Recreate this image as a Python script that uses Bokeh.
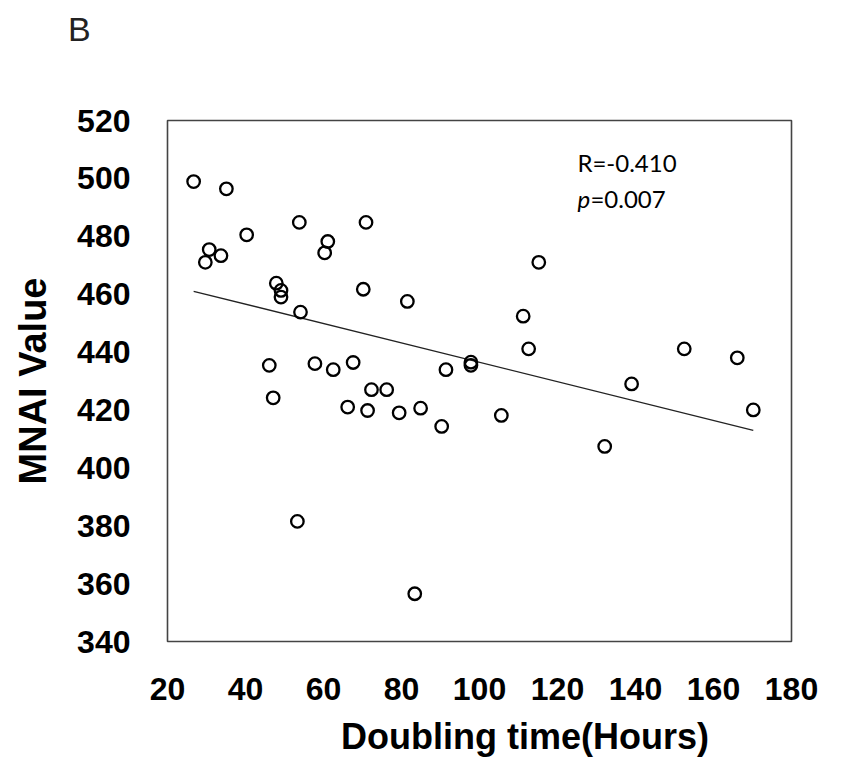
import numpy as np
from bokeh.plotting import figure
from bokeh.models import FixedTicker, Label, Range1d, ColumnDataSource, Div
from bokeh.layouts import column
from bokeh.embed import file_html
from bokeh.resources import INLINE

# Data
doubling_time = [26.7, 35.1, 53.8, 70.9, 40.3, 61.1, 60.3, 30.7, 33.7, 29.7,
                 47.9, 49.1, 49.1, 70.2, 54.1, 46.1, 57.8, 62.5, 67.6, 47.1,
                 66.2, 71.3, 72.3, 53.3, 76.2, 79.4, 84.9, 90.3, 105.6, 83.4,
                 81.5, 115.2, 111.2, 112.6, 91.4, 97.8, 97.8, 152.5, 166.1, 139.0,
                 170.2, 132.1]
mnai_value = [498.9, 496.4, 484.8, 484.8, 480.5, 478.2, 474.3, 475.4, 473.3, 471.0,
              463.8, 461.3, 459.0, 461.7, 453.8, 435.4, 436.0, 433.9, 436.4, 424.2,
              421.0, 419.8, 427.0, 381.5, 427.0, 419.0, 420.6, 414.3, 418.1, 356.5,
              457.5, 471.0, 452.4, 441.1, 433.9, 436.5, 435.4, 441.1, 438.0, 429.0,
              420.0, 407.4]
x_ticks = [20, 40, 60, 80, 100, 120, 140, 160, 180]
y_ticks = [340, 360, 380, 400, 420, 440, 460, 480, 500, 520]
r_text = "R=-0.410"
p_value_text = "=0.007"
panel_letter = "B"
x_title = "Doubling time(Hours)"
y_title = "MNAI Value"

x = np.array(doubling_time)
y = np.array(mnai_value)
slope, intercept = np.polyfit(x, y, 1)
fit_x = [x.min(), x.max()]
fit_y = [slope * v + intercept for v in fit_x]

header = Div(text=('<div style="padding-left:68px;padding-top:12px;font-family:\'Liberation Sans\';'
                   'font-size:34px;line-height:34px;color:#222">' + panel_letter + '</div>'),
             width=826, height=50, margin=(0, 0, 0, 0))

footer = Div(text=('<div style="padding-left:341px;padding-top:5px;font-family:\'Liberation Sans\';font-weight:bold;'
                   'font-size:36px;line-height:42px;color:black;white-space:nowrap">' + x_title + '</div>'),
             width=826, height=58, margin=(0, 0, 0, 0))

p = figure(width=826, height=661, output_backend="svg", toolbar_location=None,
           x_range=Range1d(x_ticks[0], x_ticks[-1]), y_range=Range1d(y_ticks[0], y_ticks[-1]),
           min_border_left=167, min_border_right=35, min_border_top=70, min_border_bottom=70)
p.margin = (0, 0, 0, 0)

p.background_fill_color = "white"
p.border_fill_color = "white"
p.outline_line_color = "#444444"
p.outline_line_width = 1.6
p.xgrid.visible = False
p.ygrid.visible = False

for ax in (p.xaxis[0], p.yaxis[0]):
    ax.axis_line_color = None
    ax.major_tick_line_color = None
    ax.minor_tick_line_color = None
    ax.major_label_text_font = "Liberation Sans"
    ax.major_label_text_font_style = "bold"
    ax.major_label_text_font_size = "32px"
    ax.major_label_text_color = "black"
    ax.axis_label_text_font = "Liberation Sans"
    ax.axis_label_text_font_style = "bold"
    ax.axis_label_text_font_size = "38px"
    ax.axis_label_text_color = "black"

p.xaxis[0].ticker = FixedTicker(ticks=x_ticks)
p.yaxis[0].ticker = FixedTicker(ticks=y_ticks)
p.xaxis[0].major_label_standoff = 30
p.yaxis[0].major_label_standoff = 31
p.yaxis[0].axis_label = y_title
p.yaxis[0].axis_label_standoff = 20

p.line(fit_x, fit_y, line_color="#222222", line_width=1.3)

src = ColumnDataSource(dict(x=doubling_time, y=mnai_value))
p.scatter("x", "y", source=src, marker="circle", size=12.5, fill_color=None,
          line_color="black", line_width=2.3)

p.add_layout(Label(x=125.1, y=505.5, text=r_text, text_font="Lato",
                   text_font_size="24px", text_color="black", text_baseline="alphabetic"))
p.add_layout(Label(x=125.1, y=493.0, text="p", text_font="Lato", text_font_style="italic",
                   text_font_size="24px", text_color="black", text_baseline="alphabetic"))
p.add_layout(Label(x=125.1, y=493.0, x_offset=13, text=p_value_text, text_font="Lato",
                   text_font_size="24px", text_color="black", text_baseline="alphabetic"))

layout = column(header, p, footer, spacing=0)
open("out.html", "w").write(file_html(layout, INLINE))
